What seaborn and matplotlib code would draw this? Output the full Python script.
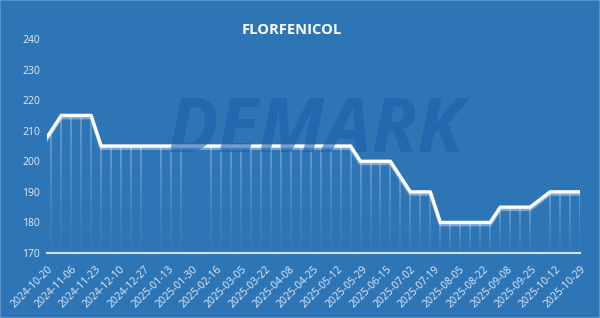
import matplotlib
matplotlib.use("Agg")
import matplotlib.pyplot as plt
import matplotlib.dates as mdates
import matplotlib.patheffects as pe
from matplotlib.collections import LineCollection
import numpy as np
import pandas as pd
import seaborn as sns

# ---- data ----
dates = [
    "2024-10-16", "2024-10-23", "2024-10-30", "2024-11-06", "2024-11-13", "2024-11-20",
    "2024-11-27", "2024-12-04", "2024-12-11", "2024-12-18", "2024-12-25",
    "2025-01-08", "2025-01-15", "2025-01-22",
    "2025-02-12", "2025-02-19", "2025-02-26", "2025-03-05", "2025-03-12", "2025-03-19",
    "2025-03-26", "2025-04-02", "2025-04-09", "2025-04-16", "2025-04-23", "2025-04-30",
    "2025-05-07", "2025-05-14", "2025-05-21", "2025-05-28", "2025-06-04", "2025-06-11",
    "2025-06-18", "2025-06-25", "2025-07-02", "2025-07-09", "2025-07-16", "2025-07-23",
    "2025-07-30", "2025-08-06", "2025-08-13", "2025-08-20", "2025-08-27", "2025-09-03",
    "2025-09-10", "2025-09-17", "2025-09-24",
    "2025-10-08", "2025-10-15", "2025-10-22", "2025-10-29",
]
prices = [
    205, 210, 215, 215, 215, 215,
    205, 205, 205, 205, 205,
    205, 205, 205,
    205, 205, 205, 205, 205, 205,
    205, 205, 205, 205, 205, 205,
    205, 205, 205, 200, 200, 200,
    200, 195, 190, 190, 190, 180,
    180, 180, 180, 180, 180, 185,
    185, 185, 185,
    190, 190, 190, 190,
]
tick_labels = [
    "2024-10-20", "2024-11-06", "2024-11-23", "2024-12-10", "2024-12-27",
    "2025-01-13", "2025-01-30", "2025-02-16", "2025-03-05", "2025-03-22",
    "2025-04-08", "2025-04-25", "2025-05-12", "2025-05-29", "2025-06-15",
    "2025-07-02", "2025-07-19", "2025-08-05", "2025-08-22", "2025-09-08",
    "2025-09-25", "2025-10-12", "2025-10-29",
]
y_ticks = [170, 180, 190, 200, 210, 220, 230, 240]
title = "FLORFENICOL"
watermark = "DEMARK"

df = pd.DataFrame({"date": pd.to_datetime(dates), "price": prices})

# ---- style ----
BG = "#2E75B6"
TXT = "#E2EBF5"
sns.set_style("white")
plt.rcParams["font.family"] = ["Open Sans", "DejaVu Sans"]

fig = plt.figure(figsize=(6.0, 3.18), dpi=100, facecolor=BG)
ax = fig.add_axes([47 / 600, 1 - 253 / 318, (580 - 47) / 600, (253 - 39) / 318])
ax.set_facecolor(BG)

# border of the figure
fig.patches.append(plt.Rectangle((0, 0), 1, 1, transform=fig.transFigure,
                                 fill=False, edgecolor="#5E98CF", linewidth=1.2))

# watermark
fig.text(315 / 600, 1 - 133 / 318, watermark, fontsize=54, fontweight="bold",
         fontstyle="italic", color="#1D60AB", ha="center", va="center",
         alpha=0.6, zorder=0)

ymin = y_ticks[0]
# drop lines with a fading gradient
xnum = mdates.date2num(df["date"])
segs, cols = [], []
nseg = 24
for xv, yv in zip(xnum, df["price"]):
    edges = np.linspace(ymin, yv, nseg + 1)
    for i in range(nseg):
        segs.append([(xv, edges[i]), (xv, edges[i + 1])])
        a = 0.02 + 0.33 * ((i + 0.5) / nseg) ** 1.2
        cols.append((1, 1, 1, a))
lc = LineCollection(segs, colors=cols, linewidths=1.1, zorder=2, capstyle="butt")
ax.add_collection(lc)

sns.lineplot(data=df, x="date", y="price", ax=ax, color="white", linewidth=2.4,
             zorder=4,
             path_effects=[pe.SimpleLineShadow(offset=(0, -1.6), shadow_color="#C9DCF2",
                                               alpha=0.5),
                           pe.Normal()])

ax.set_xlim(pd.Timestamp(tick_labels[0]), pd.Timestamp(tick_labels[-1]))
ax.set_ylim(y_ticks[0], y_ticks[-1])
ax.set_yticks(y_ticks)
ax.set_yticklabels([str(v) for v in y_ticks], color=TXT, fontsize=7.5)
ax.set_xticks(pd.to_datetime(tick_labels))
ax.set_xticklabels(tick_labels, rotation=45, ha="right", va="top",
                   rotation_mode="anchor", color=TXT, fontsize=7.5)
ax.tick_params(axis="y", length=0, pad=5)
ax.tick_params(axis="x", length=4, width=1.2, color="#D5E2F0", pad=4, direction="out")
ax.set_xlabel("")
ax.set_ylabel("")
for s in ["top", "right", "left"]:
    ax.spines[s].set_visible(False)
ax.spines["bottom"].set_color("#D5E2F0")
ax.spines["bottom"].set_linewidth(1.5)
ax.grid(False)

fig.text(292 / 600, 1 - 30 / 318, title, fontsize=10.5, fontweight="bold",
         color="white", ha="center", va="center")

fig.savefig("out.png", dpi=100, facecolor=BG)
